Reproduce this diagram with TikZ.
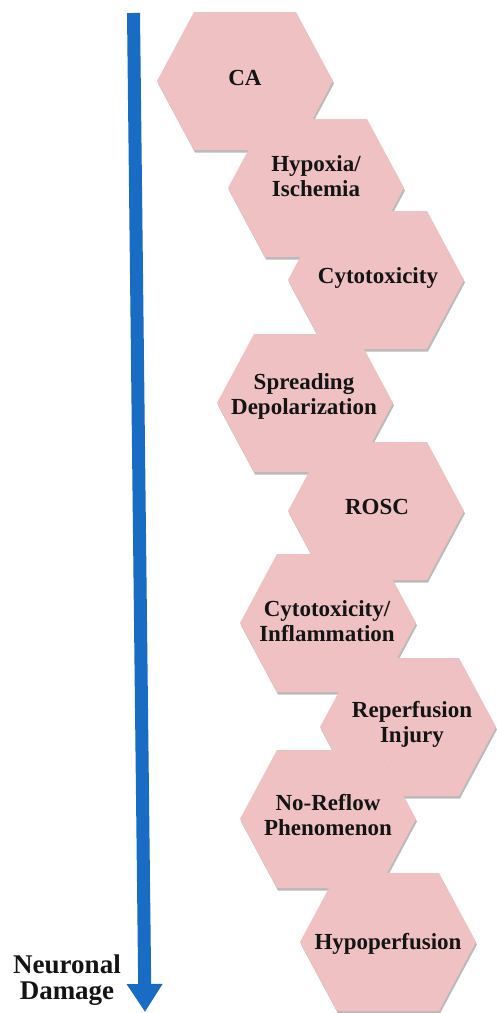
\documentclass[tikz,border=0pt]{standalone}
\usepackage{fontspec}
\setmainfont{Liberation Serif}
\usetikzlibrary{arrows.meta,shadows}
\definecolor{hexpink}{RGB}{239,193,194}
\definecolor{arrowblue}{RGB}{24,108,196}
\definecolor{txt}{RGB}{20,20,20}
\tikzset{
  hexfill/.style={fill=hexpink, drop shadow={shadow xshift=1pt, shadow yshift=-2.5pt, opacity=0.45, fill=gray!80!black}},
  hextext/.style={font=\bfseries\fontsize{23}{25}\selectfont, align=center, text=txt, inner sep=0pt},
  sidetext/.style={font=\bfseries\fontsize{27}{26}\selectfont, align=center, text=txt, inner sep=0pt},
  bigarrow/.style={draw=arrowblue, line width=13pt, -{Triangle[width=34pt,length=28pt]}}
}
\newcommand\hexagonbox[3]{% name, x, y
  \fill[hexfill] (#2-88,#3) -- (#2-51,#3-69) -- (#2+51,#3-69) -- (#2+88,#3) -- (#2+51,#3+69) -- (#2-51,#3+69) -- cycle;
}
\begin{document}
\begin{tikzpicture}[x=1pt,y=-1pt]
\useasboundingbox (0,0) rectangle (496,1013);
% hexagons (later ones on top)
\hexagonbox{h1}{245}{81}
\node[hextext] (t1) at (245,78) {CA};
\hexagonbox{h2}{316}{188}
\node[hextext] (t2) at (316,176) {Hypoxia/\\Ischemia};
\hexagonbox{h3}{376}{280}
\node[hextext] (t3) at (378,278) {Cytotoxicity};
\hexagonbox{h4}{305}{403}
\node[hextext] (t4) at (304,396) {Spreading\\Depolarization};
\hexagonbox{h5}{376}{511}
\node[hextext] (t5) at (377,507) {ROSC};
\hexagonbox{h6}{328}{623}
\node[hextext] (t6) at (327,621) {Cytotoxicity/\\Inflammation};
\hexagonbox{h7}{408}{727}
\node[hextext] (t7) at (412,724) {Reperfusion\\Injury};
\hexagonbox{h8}{328}{819}
\node[hextext] (t8) at (328,815) {No-Reflow\\Phenomenon};
\hexagonbox{h9}{388}{942}
\node[hextext] (t9) at (388,944) {Hypoperfusion};
% arrow
\coordinate (atop) at (133.5,13);
\coordinate (abot) at (145,1012);
\draw[bigarrow] (atop) -- (abot);
\node[sidetext] (nd) at (67,980) {Neuronal\\Damage};
\end{tikzpicture}
\end{document}
